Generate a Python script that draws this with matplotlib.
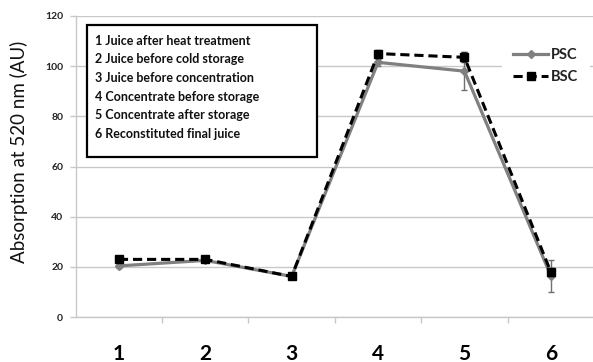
import numpy as np
import matplotlib.pyplot as plt
from matplotlib.patches import Rectangle

plt.rcParams['font.family'] = ['Lato', 'DejaVu Sans']

# data
steps = [1, 2, 3, 4, 5, 6]
psc = [20.4, 22.6, 16.2, 101.5, 98.0, 16.5]
psc_err = [0.8, 0.8, 0.6, 1.5, 7.5, 6.3]
bsc = [23.0, 23.0, 16.2, 105.0, 103.5, 18.0]
bsc_err = [0.6, 0.6, 0.5, 1.5, 2.0, 1.5]
step_names = ['1 Juice after heat treatment',
              '2 Juice before cold storage',
              '3 Juice before concentration',
              '4 Concentrate before storage',
              '5 Concentrate after storage',
              '6 Reconstituted final juice']

fig = plt.figure(figsize=(5.93, 3.62), dpi=100)
ax = fig.add_axes([0.1277, 0.124, 0.874, 0.832])

grid_col = '#c8c8c8'
ax.set_xlim(0.5, 6.5)
ax.set_ylim(0, 120)
ax.set_yticks(np.arange(0, 121, 20))
ax.yaxis.grid(True, color=grid_col, lw=1.0)
ax.set_axisbelow(True)
for s in ['top', 'right']:
    ax.spines[s].set_visible(False)
for s in ['left', 'bottom']:
    ax.spines[s].set_color(grid_col)
    ax.spines[s].set_linewidth(1.0)

# category labels at the centres, tick marks at the boundaries
ax.set_xticks(steps)
ax.set_xticklabels([str(s) for s in steps], fontsize=15, fontweight='bold')
ax.tick_params(axis='x', which='major', length=0, pad=19)
ax.set_xticks(np.arange(1.5, 6.5, 1.0), minor=True)
ax.tick_params(axis='x', which='minor', length=4, color=grid_col, width=1)
ax.tick_params(axis='y', length=4, color=grid_col, width=1, labelsize=7.5, pad=5)
for lab in ax.get_yticklabels():
    lab.set_fontweight('bold')
    lab.set_color('#222222')

ax.set_ylabel('Absorption at 520 nm (AU)', fontsize=13.5, color='#111111')
ax.yaxis.set_label_coords(-0.092, 0.548)

ax.errorbar(steps, psc, yerr=psc_err, color='#808080', lw=2.3, marker='D',
            ms=4, mfc='#808080', mec='#808080', ecolor='#707070', elinewidth=1,
            capsize=2.5, label='PSC', zorder=3)
ax.errorbar(steps, bsc, yerr=bsc_err, color='black', lw=2.2, ls=(0, (3, 1.6)),
            marker='s', ms=6, mfc='black', mec='black', ecolor='#333333',
            elinewidth=1, capsize=2.5, label='BSC', zorder=4)

handles, labels = ax.get_legend_handles_labels()
handles = [h[0] for h in handles]
leg = ax.legend(handles, labels, loc='upper left', bbox_to_anchor=(0.822, 0.932),
                frameon=True, fancybox=False, edgecolor='none', facecolor='white',
                framealpha=1, fontsize=10.5, handlelength=2.4, handletextpad=0.2,
                labelspacing=0.55, borderaxespad=0, borderpad=0.8)
for t in leg.get_texts():
    t.set_fontweight('bold')
    t.set_color('#222222')

# box with the step descriptions
ax.add_patch(Rectangle((0.0218, 0.5316), 0.4438, 0.4384, transform=ax.transAxes,
                       facecolor='white', edgecolor='black', lw=1.6, zorder=5))
for i, name in enumerate(step_names):
    ax.text(0.037, 0.918 - i * 0.0621, name, transform=ax.transAxes, fontsize=9,
            fontweight='bold', va='center', ha='left', color='#111111', zorder=6)

fig.savefig('out.png', dpi=100)
